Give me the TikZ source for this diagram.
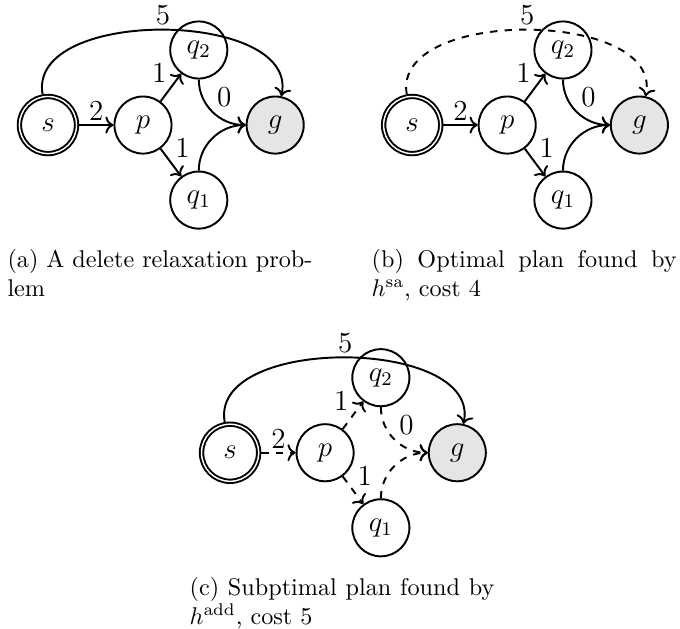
\documentclass[tikz,border=0pt]{standalone}
\usepackage{tikz}
\usetikzlibrary{arrows.meta,positioning}

\begin{document}
\begin{tikzpicture}[
    fact/.style={circle, draw, thick, minimum size=23.6pt, inner sep=0pt, font=\large},
    init/.style={fact, double, outer sep=1.1pt},
    goal/.style={fact, fill=gray!20},
    arc/.style={-{To}, thick},
    plan/.style={arc, dashed},
    cost/.style={font=\large, inner sep=1.5pt},
    subcap/.style={anchor=north west, inner sep=0pt, text width=126pt, align=justify},
]
\useasboundingbox (-0.697,1.816) rectangle (9.18,-7.306);

% (a) delete relaxation problem
\node[init] (a-s) at (0,0) {$s$};
\node[fact] (a-p) at (1.38,0) {$p$};
\node[fact] (a-q2) at (2.19,1.09) {$q_2$};
\node[fact] (a-q1) at (2.19,-1.09) {$q_1$};
\node[goal] (a-g) at (3.30,0) {$g$};
\draw[arc] (a-s) -- node[cost, above] {2} (a-p);
\draw[arc] (a-p) -- node[cost, above left] {1} (a-q2);
\draw[arc] (a-p) -- node[cost, above right] {1} (a-q1);
\draw[arc] (a-q2) to[out=-90, in=180] node[cost, above right] {0} (a-g);
\draw[arc] (a-q1) to[out=90, in=180] (a-g);
\draw[arc] (a-s) to[out=100, in=78, looseness=0.95] node[cost, midway, above] {5} (a-g);
\node[subcap] (a-cap) at (-0.595,-1.80)
    {(a) A delete relaxation prob-\linebreak lem};

% (b) optimal plan
\begin{scope}[xshift=5.29cm]
\node[init] (b-s) at (0,0) {$s$};
\node[fact] (b-p) at (1.38,0) {$p$};
\node[fact] (b-q2) at (2.19,1.09) {$q_2$};
\node[fact] (b-q1) at (2.19,-1.09) {$q_1$};
\node[goal] (b-g) at (3.30,0) {$g$};
\draw[arc] (b-s) -- node[cost, above] {2} (b-p);
\draw[arc] (b-p) -- node[cost, above left] {1} (b-q2);
\draw[arc] (b-p) -- node[cost, above right] {1} (b-q1);
\draw[arc] (b-q2) to[out=-90, in=180] node[cost, above right] {0} (b-g);
\draw[arc] (b-q1) to[out=90, in=180] (b-g);
\draw[plan] (b-s) to[out=100, in=78, looseness=0.95] node[cost, midway, above] {5} (b-g);
\node[subcap] (b-cap) at (-0.595,-1.80)
    {(b) Optimal plan found by\linebreak $h^{\mathrm{sa}}$, cost 4};
\end{scope}

% (c) suboptimal plan
\begin{scope}[xshift=2.645cm, yshift=-4.76cm]
\node[init] (c-s) at (0,0) {$s$};
\node[fact] (c-p) at (1.38,0) {$p$};
\node[fact] (c-q2) at (2.19,1.09) {$q_2$};
\node[fact] (c-q1) at (2.19,-1.09) {$q_1$};
\node[goal] (c-g) at (3.30,0) {$g$};
\draw[plan] (c-s) -- node[cost, above] {2} (c-p);
\draw[plan] (c-p) -- node[cost, above left] {1} (c-q2);
\draw[plan] (c-p) -- node[cost, above right] {1} (c-q1);
\draw[plan] (c-q2) to[out=-90, in=180] node[cost, above right] {0} (c-g);
\draw[plan] (c-q1) to[out=90, in=180] (c-g);
\draw[arc] (c-s) to[out=100, in=78, looseness=0.95] node[cost, midway, above] {5} (c-g);
\node[subcap] (c-cap) at (-0.595,-1.80)
    {(c) Subptimal plan found by\linebreak $h^{\mathrm{add}}$, cost 5};
\end{scope}

\end{tikzpicture}
\end{document}
